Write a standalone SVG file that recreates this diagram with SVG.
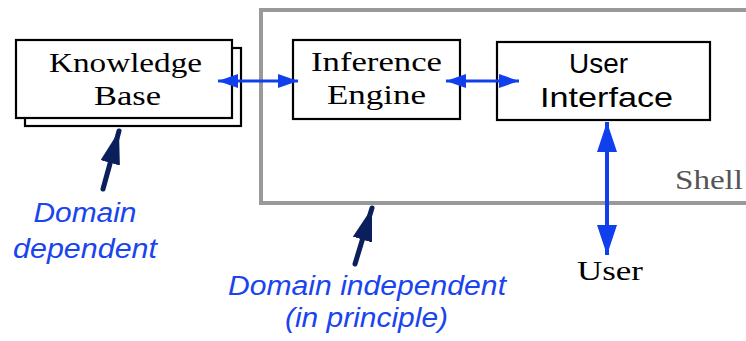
<svg xmlns="http://www.w3.org/2000/svg" width="746" height="341" viewBox="0 0 746 341">
  <style>
    .box { fill: #fff; stroke: #000; stroke-width: 2.2; }
    .serif { font-family: "Liberation Serif", "DejaVu Serif", serif; font-size: 28px; fill: #000; }
    .sans { font-family: "Liberation Sans", "DejaVu Sans", sans-serif; font-size: 28px; fill: #000; }
    .note { font-family: "Liberation Sans", Arial, sans-serif; font-style: italic; font-size: 27px; fill: #1a44ee; }
    .link { stroke: #1040ee; fill: none; }
    .pointer { stroke: #0a1f5c; stroke-width: 5; stroke-linecap: round; fill: none; }
  </style>
  <defs>
    <marker id="headSmall" markerUnits="userSpaceOnUse" markerWidth="22" markerHeight="16" refX="20" refY="7" orient="auto-start-reverse">
      <path d="M0,0 L20,7 L0,14 Z" fill="#1040ee"/>
    </marker>
    <marker id="headBig" markerUnits="userSpaceOnUse" markerWidth="32" markerHeight="22" refX="30" refY="10" orient="auto-start-reverse">
      <path d="M0,0 L30,10 L0,20 Z" fill="#1040ee"/>
    </marker>
    <marker id="headDark" markerUnits="userSpaceOnUse" markerWidth="36" markerHeight="22" refX="33" refY="10" orient="auto">
      <path d="M0,0 L33,10 L0,20 Z" fill="#0a1f5c"/>
    </marker>
  </defs>

  <!-- shell frame -->
  <g id="shell">
    <rect x="261" y="10" width="500" height="193" fill="none" stroke="#999" stroke-width="4"/>
    <text x="675" y="189" font-family="Liberation Serif, DejaVu Serif, serif" font-size="28" fill="#555" textLength="68" lengthAdjust="spacingAndGlyphs">Shell</text>
  </g>

  <!-- knowledge base (stacked) -->
  <g id="knowledge-base">
    <rect class="box" x="25" y="48" width="216" height="78"/>
    <rect class="box" x="16" y="40" width="216" height="78"/>
    <text class="serif" x="125.5" y="72" text-anchor="middle" textLength="153" lengthAdjust="spacingAndGlyphs">Knowledge</text>
    <text class="serif" x="127.5" y="105" text-anchor="middle" textLength="67" lengthAdjust="spacingAndGlyphs">Base</text>
  </g>

  <g id="inference-engine">
    <rect class="box" x="293" y="40" width="167" height="79"/>
    <text class="serif" x="376.5" y="71" text-anchor="middle" textLength="131" lengthAdjust="spacingAndGlyphs">Inference</text>
    <text class="serif" x="376.5" y="104" text-anchor="middle" textLength="99" lengthAdjust="spacingAndGlyphs">Engine</text>
  </g>

  <g id="user-interface">
    <rect class="box" x="497" y="42" width="213" height="78"/>
    <text class="sans" x="598.5" y="73" text-anchor="middle" textLength="59" lengthAdjust="spacingAndGlyphs">User</text>
    <text class="sans" x="606.5" y="107" text-anchor="middle" textLength="133" lengthAdjust="spacingAndGlyphs">Interface</text>
  </g>

  <g id="user">
    <text class="serif" x="610" y="280" text-anchor="middle" textLength="66" lengthAdjust="spacingAndGlyphs">User</text>
  </g>

  <g id="domain-dependent">
    <text class="note" x="85" y="222" text-anchor="middle" textLength="103" lengthAdjust="spacingAndGlyphs">Domain</text>
    <text class="note" x="85" y="258" text-anchor="middle" textLength="144" lengthAdjust="spacingAndGlyphs">dependent</text>
  </g>

  <g id="domain-independent">
    <text class="note" x="367" y="295" text-anchor="middle" textLength="278" lengthAdjust="spacingAndGlyphs">Domain independent</text>
    <text class="note" x="366.5" y="327" text-anchor="middle" textLength="163" lengthAdjust="spacingAndGlyphs">(in principle)</text>
  </g>

  <!-- connectors -->
  <g id="connectors">
    <line class="link" x1="218" y1="81" x2="298" y2="81" stroke-width="3" marker-start="url(#headSmall)" marker-end="url(#headSmall)"/>
    <line class="link" x1="446" y1="81" x2="519" y2="81" stroke-width="3" marker-start="url(#headSmall)" marker-end="url(#headSmall)"/>
    <line class="link" x1="607" y1="122" x2="607" y2="255" stroke-width="4" marker-start="url(#headBig)" marker-end="url(#headBig)"/>
    <line class="pointer" x1="103" y1="189" x2="119" y2="131" marker-end="url(#headDark)"/>
    <line class="pointer" x1="355" y1="264" x2="372" y2="208" marker-end="url(#headDark)"/>
  </g>
</svg>
